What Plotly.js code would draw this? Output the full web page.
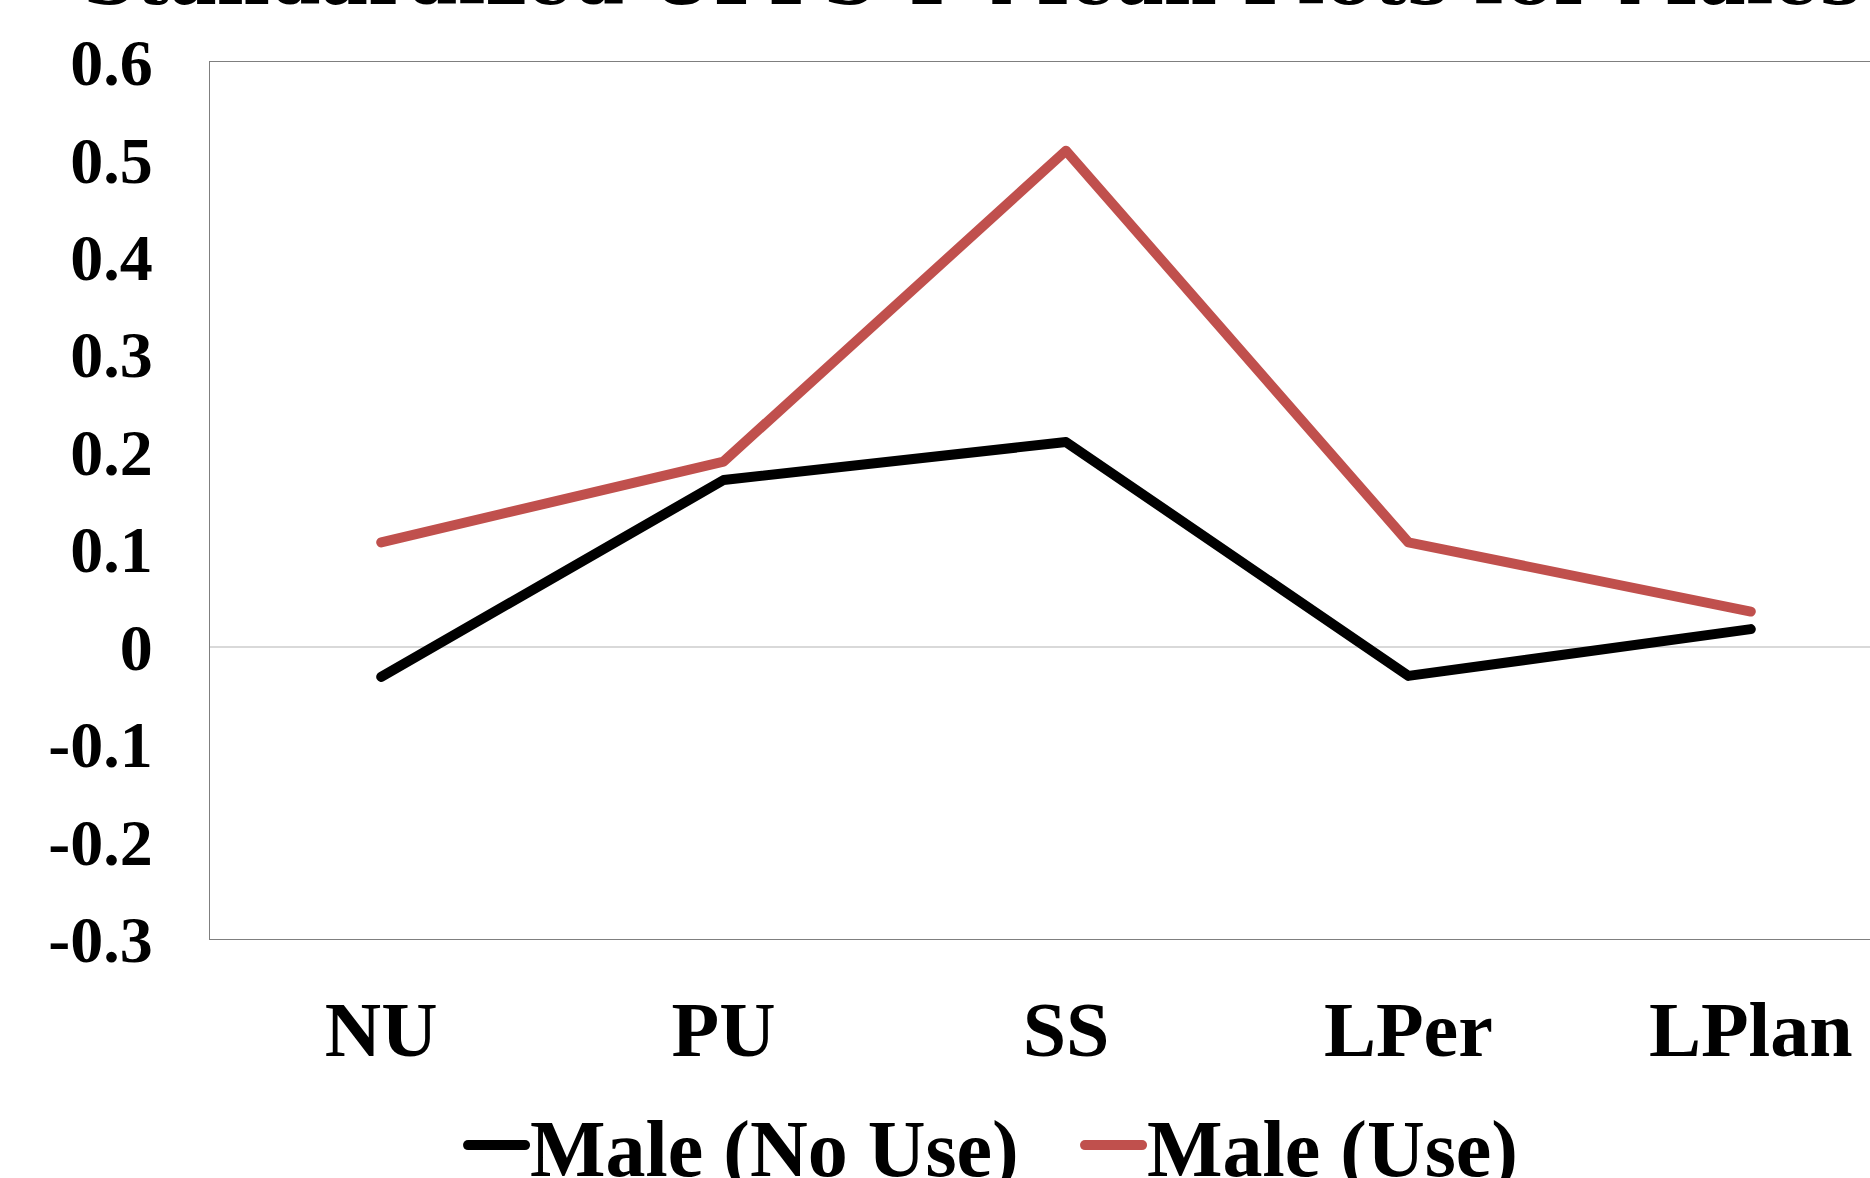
<!DOCTYPE html>
<html>
<head>
<meta charset="utf-8">
<script src="https://cdn.plot.ly/plotly-3.0.1.min.js"></script>
<style>
html, body { margin:0; padding:0; width:1870px; height:1178px; overflow:hidden; background:#fff; }
#chart { width:1960px; height:1178px; }
.scatterlayer .js-line { stroke-linecap: round; stroke-linejoin: round; }
.legendlines path { stroke-linecap: round; }
</style>
</head>
<body>
<div id="chart"></div>
<script>
const categories = ["NU", "PU", "SS", "LPer", "LPlan"];
const maleNoUse = [-0.031, 0.171, 0.210, -0.030, 0.018];
const maleUse = [0.107, 0.190, 0.509, 0.107, 0.036];
const yTickVals = [-0.3, -0.2, -0.1, 0, 0.1, 0.2, 0.3, 0.4, 0.5, 0.6];
const yTickText = ["-0.3", "-0.2", "-0.1", "0", "0.1", "0.2", "0.3", "0.4", "0.5", "0.6"];
const titleText = "Standardized UPPS-P Mean Plots for Males";

const serif = "Liberation Serif, Times New Roman, serif";

const traces = [
  { x: categories, y: maleNoUse, name: "Male (No Use)", type: "scatter", mode: "lines",
    line: { color: "#000000", width: 10 } },
  { x: categories, y: maleUse, name: "Male (Use)", type: "scatter", mode: "lines",
    line: { color: "#C0504D", width: 10 } }
];

const layout = {
  width: 1960, height: 1178,
  paper_bgcolor: "#ffffff", plot_bgcolor: "#ffffff",
  margin: { l: 210, r: 38, t: 62, b: 239, autoexpand: false },
  title: { text: titleText, xref: "container", x: 83/1960, xanchor: "left",
           yref: "container", y: 0.997, yanchor: "bottom",
           font: { family: "DejaVu Serif, serif", size: 73, weight: "bold", color: "#000" } },
  xaxis: {
    type: "category", range: [-0.5, 4.5],
    showgrid: false, zeroline: false,
    showline: true, linecolor: "#7f7f7f", linewidth: 1, mirror: true,
    ticks: "", ticklabelstandoff: 22,
    tickfont: { family: serif, size: 78, weight: "bold", color: "#000" }
  },
  yaxis: {
    range: [-0.3, 0.6], tickvals: yTickVals, ticktext: yTickText,
    showgrid: false, zeroline: true, zerolinecolor: "#d9d9d9", zerolinewidth: 2,
    showline: true, linecolor: "#7f7f7f", linewidth: 1, mirror: true,
    ticks: "", ticklabelstandoff: 43,
    tickfont: { family: serif, size: 66, weight: "bold", color: "#000" }
  },
  showlegend: true,
  legend: {
    orientation: "h", xref: "paper", x: 0.1478, xanchor: "left",
    yref: "paper", y: -0.235, yanchor: "middle",
    font: { family: serif, size: 80, weight: "bold", color: "#000" },
    itemwidth: 57, entrywidth: 545, entrywidthmode: "pixels",
    bgcolor: "rgba(0,0,0,0)"
  }
};

Plotly.newPlot("chart", traces, layout, { staticPlot: true, displayModeBar: false }).then(function (gd) {
  gd.querySelectorAll(".legendlines path").forEach(function (p) {
    p.style.strokeWidth = "10px";
  });
});
</script>
</body>
</html>
